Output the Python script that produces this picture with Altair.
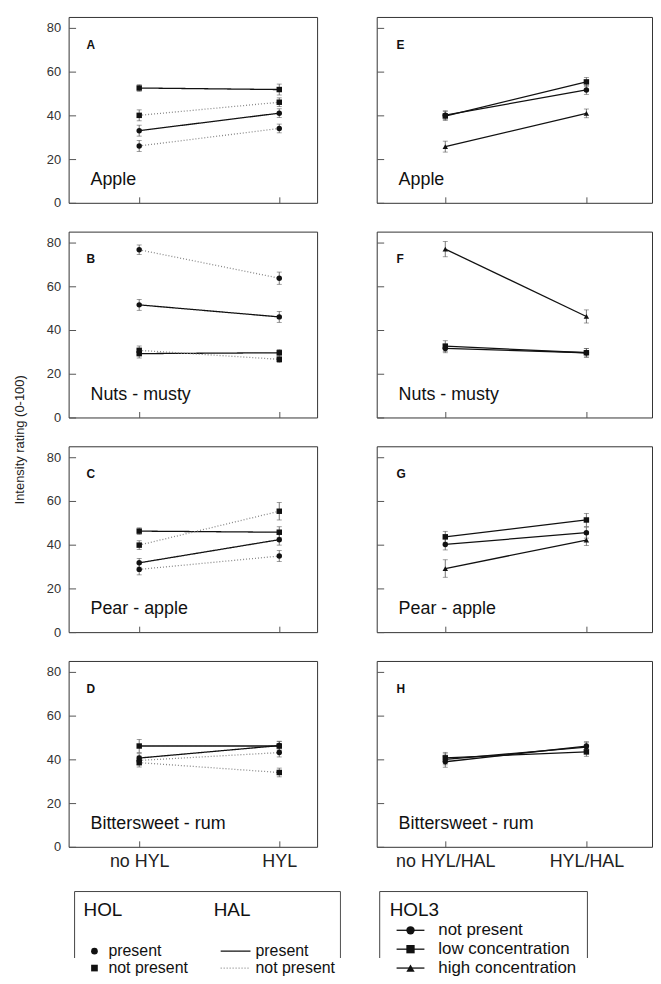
import altair as alt
import pandas as pd

# ---------------- data ----------------
attributes = ["Apple", "Nuts - musty", "Pear - apple", "Bittersweet - rum"]
letters_left = ["A", "B", "C", "D"]
letters_right = ["E", "F", "G", "H"]
left_cats = ["no HYL", "HYL"]
right_cats = ["no HYL/HAL", "HYL/HAL"]
y_ticks = [0, 20, 40, 60, 80]

hol_levels = ["present", "not present"]
hal_levels = ["present", "not present"]
hol3_levels = ["not present", "low concentration", "high concentration"]

# left panels: series = (HOL, HAL) combinations, values at [no HYL, HYL]
left_series_hol = ["present", "present", "not present", "not present"]
left_series_hal = ["present", "not present", "present", "not present"]

apple_left = [[33.0, 41.0], [26.0, 34.0], [52.5, 51.8], [40.0, 46.0]]
nuts_left = [[51.5, 46.0], [76.7, 63.7], [29.2, 29.6], [30.7, 26.6]]
pear_left = [[31.7, 42.3], [28.7, 34.8], [46.2, 45.7], [39.8, 55.3]]
bitter_left = [[40.6, 46.3], [39.5, 43.1], [46.1, 46.1], [38.5, 34.0]]

apple_left_se = [[2.5, 2.0], [2.5, 2.0], [1.5, 2.5], [2.5, 2.0]]
nuts_left_se = [[2.5, 2.5], [2.2, 2.8], [2.0, 1.5], [2.0, 1.5]]
pear_left_se = [[2.0, 2.5], [2.5, 2.5], [1.5, 2.5], [2.0, 4.0]]
bitter_left_se = [[2.0, 2.0], [2.0, 2.0], [3.0, 2.0], [2.0, 2.0]]

# right panels: series = HOL3 level, values at [no HYL/HAL, HYL/HAL]
apple_right = [[40.1, 51.6], [39.7, 55.3], [25.7, 40.9]]
nuts_right = [[31.6, 29.6], [32.6, 29.6], [77.0, 46.2]]
pear_right = [[40.1, 45.5], [43.6, 51.3], [29.1, 42.1]]
bitter_right = [[38.9, 46.1], [40.7, 43.4], [40.0, 45.6]]

apple_right_se = [[2.0, 2.0], [2.0, 2.0], [2.5, 2.0]]
nuts_right_se = [[2.0, 2.0], [2.5, 2.0], [3.5, 3.0]]
pear_right_se = [[2.5, 2.5], [2.5, 3.0], [4.0, 2.5]]
bitter_right_se = [[2.5, 2.0], [2.5, 2.0], [2.5, 2.0]]

left_means = [apple_left, nuts_left, pear_left, bitter_left]
left_ses = [apple_left_se, nuts_left_se, pear_left_se, bitter_left_se]
right_means = [apple_right, nuts_right, pear_right, bitter_right]
right_ses = [apple_right_se, nuts_right_se, pear_right_se, bitter_right_se]

# ---------------- tables ----------------
rows = []
for a, attr in enumerate(attributes):
    for s in range(4):
        for xi in range(2):
            v = left_means[a][s][xi]
            e = left_ses[a][s][xi]
            rows.append(dict(attr=attr, sid=s, HOL=left_series_hol[s], HAL=left_series_hal[s],
                             xi=xi, value=v, lo=v - e, hi=v + e))
df_left = pd.DataFrame(rows)

rows = []
for a, attr in enumerate(attributes):
    for s in range(3):
        for xi in range(2):
            v = right_means[a][s][xi]
            e = right_ses[a][s][xi]
            rows.append(dict(attr=attr, sid=s, HOL3=hol3_levels[s],
                             xi=xi, value=v, lo=v - e, hi=v + e))
df_right = pd.DataFrame(rows)

FONT = "Liberation Sans"
H = 187
WL, WR = 250, 277


def x_def(side, show_labels):
    cats = left_cats if side == "L" else right_cats
    dom = [-0.504, 1.27] if side == "L" else [-0.486, 1.465]
    expr = f"datum.value == 0 ? '{cats[0]}' : '{cats[1]}'"
    ax = alt.Axis(values=[0, 1], labels=show_labels, labelExpr=expr, offset=-6, tickSize=6,
                  labelPadding=6, labelFontSize=18, labelColor="#222", labelFont=FONT,
                  title=None)
    return alt.X("xi:Q", scale=alt.Scale(domain=dom, nice=False, zero=False), axis=ax)


def y_def(side, field, title):
    kw = dict(values=y_ticks, labels=(side == "L"), offset=-7, tickSize=7, labelPadding=8,
              labelFontSize=13, labelColor="#333", labelFont=FONT)
    if title:
        kw.update(title=title, titleY=209, titlePadding=20, titleFontSize=13,
                  titleFontWeight="normal", titleColor="#222", titleFont=FONT)
    else:
        kw["title"] = None
    return alt.Y(field, scale=alt.Scale(domain=[0, 85], nice=False), axis=alt.Axis(**kw))


def labels_layer(letter, name, lx):
    d = pd.DataFrame({"letter": [letter], "name": [name]})
    t1 = alt.Chart(d).mark_text(align="left", baseline="alphabetic", fontSize=12, fontWeight="bold",
                                font=FONT, color="#111", x=lx, y=32).encode(text="letter:N")
    t2 = alt.Chart(d).mark_text(align="left", baseline="alphabetic", fontSize=18,
                                font=FONT, color="#111", x=22, y=169).encode(text="name:N")
    return [t1, t2]


def left_panel(i, show_x, title=None):
    d = df_left[df_left.attr == attributes[i]]
    X = x_def("L", show_x)
    err = alt.Chart(d).mark_errorbar(ticks=True, size=5, thickness=0.8, color="#555").encode(
        x=X, y=y_def("L", "lo:Q", title), y2="hi:Q")
    line = alt.Chart(d).mark_line(strokeWidth=1.3).encode(
        x=X, y=y_def("L", "value:Q", title), detail="sid:N",
        strokeDash=alt.StrokeDash("HAL:N", scale=alt.Scale(domain=hal_levels, range=[[1, 0], [1, 2]]), legend=None),
        color=alt.Color("HAL:N", scale=alt.Scale(domain=hal_levels, range=["#111111", "#888888"]), legend=None))
    pts = alt.Chart(d).mark_point(filled=True, opacity=1, size=30, color="#111").encode(
        x=X, y=y_def("L", "value:Q", title),
        shape=alt.Shape("HOL:N", scale=alt.Scale(domain=hol_levels, range=["circle", "square"]), legend=None))
    return alt.layer(err, line, pts, *labels_layer(letters_left[i], attributes[i], 18)).properties(
        width=WL, height=H)


def right_panel(i, show_x):
    d = df_right[df_right.attr == attributes[i]]
    X = x_def("R", show_x)
    err = alt.Chart(d).mark_errorbar(ticks=True, size=5, thickness=0.8, color="#555").encode(
        x=X, y=y_def("R", "lo:Q", None), y2="hi:Q")
    line = alt.Chart(d).mark_line(strokeWidth=1.3, color="#111").encode(
        x=X, y=y_def("R", "value:Q", None), detail="sid:N")
    pts = alt.Chart(d).mark_point(filled=True, opacity=1, size=30, color="#111").encode(
        x=X, y=y_def("R", "value:Q", None),
        shape=alt.Shape("HOL3:N", scale=alt.Scale(domain=hol3_levels, range=["circle", "square", "triangle-up"]),
                        legend=None))
    return alt.layer(err, line, pts, *labels_layer(letters_right[i], attributes[i], 20)).properties(
        width=WR, height=H)


# ---------------- legend cells ----------------
one = pd.DataFrame({"k": [0]})
LEG_H = 83


def frame(x0, x1):
    # open-bottom box: the reference cuts it at the page edge
    return alt.Chart(one).mark_rect(fillOpacity=0, stroke="#444", strokeWidth=1, clip=True).encode(
        x=alt.value(x0), x2=alt.value(x1), y=alt.value(16), y2=alt.value(LEG_H + 40))


def head(text, x):
    return alt.Chart(pd.DataFrame({"t": [text]})).mark_text(
        align="left", baseline="alphabetic", fontSize=19, font=FONT, color="#111", x=x, y=41).encode(text="t:N")


hol_leg = pd.DataFrame({"label": hol_levels, "row": list(range(len(hol_levels)))})
hal_leg = pd.DataFrame({"label": hal_levels, "row": list(range(len(hal_levels)))})
Yrow1 = alt.Y("row:Q", scale=alt.Scale(domain=[0, 1], range=[76, 93]), axis=None)

leg1 = alt.layer(
    frame(6, 273.5),
    head("HOL", 15),
    head("HAL", 146),
    alt.Chart(hol_leg).mark_point(filled=True, opacity=1, size=45, color="#111", x=26).encode(
        y=Yrow1, shape=alt.Shape("label:N", scale=alt.Scale(domain=hol_levels, range=["circle", "square"]),
                                 legend=None)),
    alt.Chart(hol_leg).mark_text(align="left", baseline="middle", fontSize=16, font=FONT, color="#111",
                                 x=40).encode(y=Yrow1, text="label:N"),
    alt.Chart(hal_leg).mark_rule(strokeWidth=1.3).encode(
        x=alt.value(153), x2=alt.value(183), y=Yrow1,
        strokeDash=alt.StrokeDash("label:N", scale=alt.Scale(domain=hal_levels, range=[[1, 0], [1, 2]]), legend=None),
        color=alt.Color("label:N", scale=alt.Scale(domain=hal_levels, range=["#111111", "#888888"]), legend=None)),
    alt.Chart(hal_leg).mark_text(align="left", baseline="middle", fontSize=16, font=FONT, color="#111",
                                 x=188).encode(y=Yrow1, text="label:N"),
).resolve_scale(color="independent", strokeDash="independent", shape="independent").properties(
    width=274, height=LEG_H, view=alt.ViewBackground(stroke="transparent"))

hol3_leg = pd.DataFrame({"label": hol3_levels, "row": list(range(len(hol3_levels)))})
Yrow2 = alt.Y("row:Q", scale=alt.Scale(domain=[0, 2], range=[55, 74]), axis=None)
Yrow2 = alt.Y("row:Q", scale=alt.Scale(domain=[0, 2], range=[55, 93]), axis=None)

leg2 = alt.layer(
    frame(3, 212),
    head("HOL3", 13),
    alt.Chart(hol3_leg).mark_rule(strokeWidth=1.3, color="#111").encode(
        x=alt.value(20), x2=alt.value(48), y=Yrow2),
    alt.Chart(hol3_leg).mark_point(filled=True, opacity=1, size=70, color="#111", x=34).encode(
        y=Yrow2, shape=alt.Shape("label:N", scale=alt.Scale(domain=hol3_levels,
                                                             range=["circle", "square", "triangle-up"]),
                                 legend=None)),
    alt.Chart(hol3_leg).mark_text(align="left", baseline="middle", fontSize=17, font=FONT, color="#111",
                                  x=62).encode(y=Yrow2, text="label:N"),
).properties(width=215, height=LEG_H, view=alt.ViewBackground(stroke="transparent"))

cells = []
for i in range(4):
    cells.append(left_panel(i, i == 3, "Intensity rating (0-100)" if i == 1 else None))
    cells.append(right_panel(i, i == 3))
cells += [leg1, leg2]

chart = alt.concat(*cells, columns=2, spacing={"row": 29, "column": 36}, bounds="flush", align="each").resolve_scale(
    x="independent", y="independent", shape="independent", color="independent", strokeDash="independent"
).properties(
    padding={"left": 5, "top": 5, "right": 0, "bottom": 0}
).configure(font=FONT, background="white").configure_view(stroke="#333", strokeWidth=1).configure_axis(
    domain=False, grid=False, tickColor="#555", tickWidth=1)

chart.save("out.html", embed_options={"renderer": "svg", "actions": False})
